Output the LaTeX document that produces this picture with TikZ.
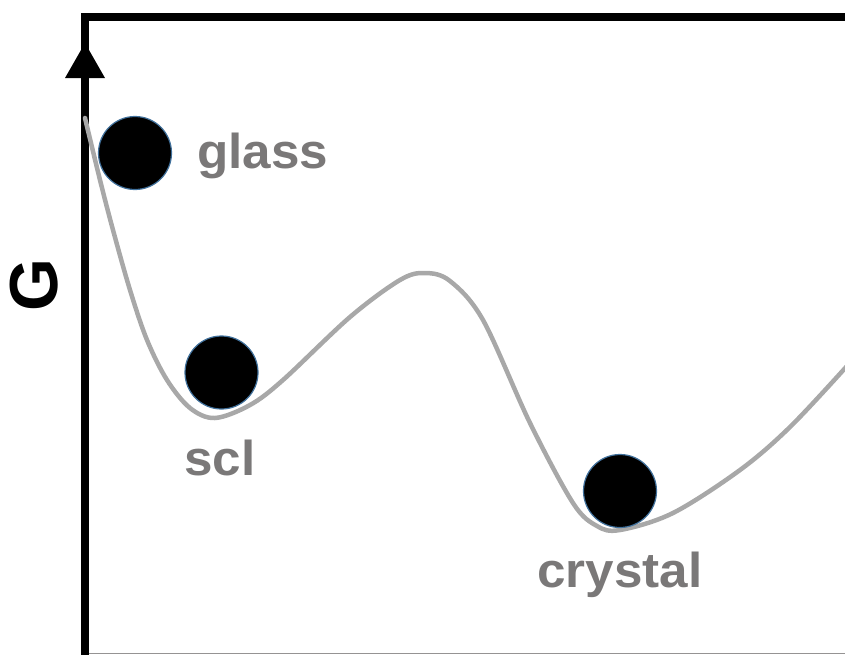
\documentclass[tikz,border=0pt]{standalone}
\usepackage{fontspec}
\setmainfont{Liberation Sans}
\definecolor{lbl}{RGB}{122,120,120}
\definecolor{curvegray}{RGB}{168,168,168}
\definecolor{ballrim}{RGB}{65,113,156}
\newcommand{\wlbl}[1]{\scalebox{1.045}[1]{#1}}
\tikzset{
  ball/.style={circle, fill=black, draw=ballrim, line width=1.2pt, minimum size=73pt, inner sep=0pt},
  statelbl/.style={anchor=base west, inner sep=0pt, text=lbl, font=\bfseries\fontsize{49}{49}\selectfont},
  axisline/.style={line width=8pt, black},
}
\begin{document}
\begin{tikzpicture}[x=1pt,y=-1pt]
\useasboundingbox (0,0) rectangle (845,654);
% axes / frame
\coordinate (ybot) at (85,658);
\coordinate (ycorner) at (85,16.7);
\coordinate (xright) at (849,16.7);
\draw[axisline, line join=miter] (ybot) -- (ycorner) -- (xright);
\coordinate (tip) at (85,43);
\coordinate (bl) at (65,78);
\coordinate (br) at (105,78);
\fill[black] (tip) -- (bl) -- (br) -- cycle;
\coordinate (xb1) at (89,653.3);
\coordinate (xb2) at (845,653.3);
\draw[lbl!80, line width=1.4pt] (xb1) -- (xb2);
% energy curve
\draw[curvegray, line width=4.5pt, line cap=round] plot[smooth, tension=0.55] coordinates {
 (85,118) (100,180) (113,230) (130,290) (147,340) (167,380) (190,408) (215,418)
 (250,405) (283,380) (350,317) (400,280) (425,273) (450,281) (483,320) (530,423)
 (573,503) (597,526) (620,530) (673,513) (740,470) (790,427) (847,366)};
% balls
\node[ball] (glassball) at (135,153) {};
\node[ball] (sclball) at (221.5,372.5) {};
\node[ball] (crystalball) at (620,491) {};
% labels
\node[statelbl] (glass) at (197,168) {\wlbl{glass}};
\node[statelbl] (scl) at (184,475) {\wlbl{scl}};
\node[statelbl] (crystal) at (537,587) {\wlbl{crystal}};
\node[rotate=90, inner sep=0pt, font=\bfseries\fontsize{68}{68}\selectfont] (G) at (34,285.5) {G};
\end{tikzpicture}
\end{document}
